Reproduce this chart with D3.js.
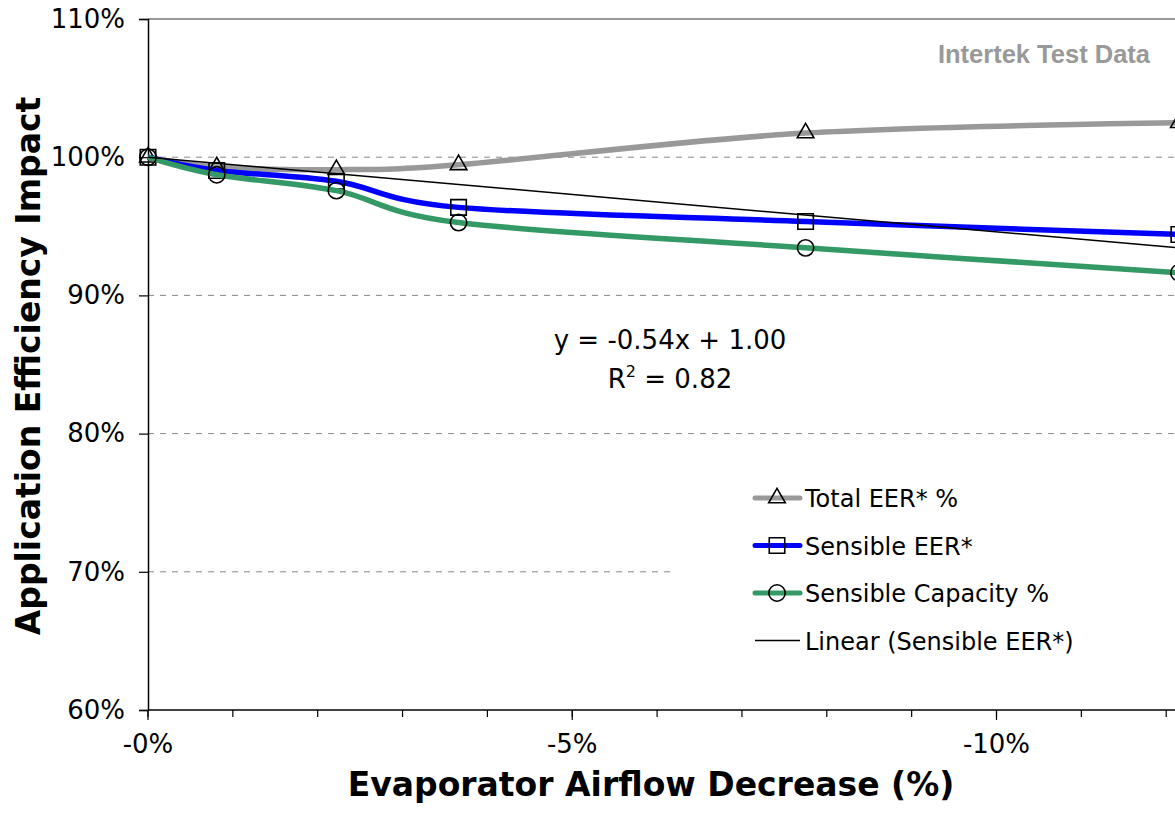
<!DOCTYPE html>
<html>
<head>
<meta charset="utf-8">
<script src="https://cdn.jsdelivr.net/npm/d3@7"></script>
<style>
  html, body { margin: 0; padding: 0; background: #fff; }
  svg { display: block; }
</style>
</head>
<body>
<div id="chart"></div>
<script>
// Airflow decrease (fraction) at each test point
const airflowDecrease = [0, 0.0081, 0.0222, 0.0366, 0.0775, 0.1215];
// Series values (fraction of baseline)
const totalEER = [1.000, 0.993, 0.991, 0.9945, 1.0175, 1.025];
const sensibleEER = [1.000, 0.9904, 0.9826, 0.9637, 0.9535, 0.9441];
const sensibleCapacity = [1.000, 0.9873, 0.9758, 0.9527, 0.9344, 0.9164];
// Linear trend fitted to Sensible EER*
const trendSlope = -0.54;
const trendIntercept = 1.00;
const trendR2 = 0.82;
// Axis ticks
const yTicks = [0.6, 0.7, 0.8, 0.9, 1.0, 1.1];
const xMajorTicks = [0, 0.05, 0.10];
const xMinorTicks = d3.range(0, 0.135, 0.01);
const seriesNames = ["Total EER* %", "Sensible EER*", "Sensible Capacity %", "Linear (Sensible EER*)"];

const W = 1175, H = 816;
const plot = { left: 148, top: 19, bottom: 710 };
const FONT = "'DejaVu Sans', Verdana, sans-serif";

const svg = d3.select("#chart").append("svg")
  .attr("width", W).attr("height", H)
  .style("font-family", FONT);

const x = d3.scaleLinear().domain([0, 0.13]).range([plot.left, plot.left + 13 * 84.85]);
const y = d3.scaleLinear().domain([0.6, 1.1]).range([plot.bottom, plot.top]);
const pct = d3.format(".0%");

// Dashed horizontal gridlines
svg.append("g").selectAll("line")
  .data(yTicks.filter(v => v > 0.6 && v < 1.1))
  .join("line")
  .attr("x1", plot.left).attr("x2", W)
  .attr("y1", d => y(d)).attr("y2", d => y(d))
  .attr("stroke", "#888").attr("stroke-width", 1)
  .attr("stroke-dasharray", "6,6");

// Top border of plot area
svg.append("line")
  .attr("x1", plot.left).attr("x2", W)
  .attr("y1", y(1.1)).attr("y2", y(1.1))
  .attr("stroke", "#777").attr("stroke-width", 1.5);

// Legend background sits over the gridlines
const legendBox = { x: 672, y: 458, w: 520, h: 222 };
svg.append("rect")
  .attr("x", legendBox.x).attr("y", legendBox.y)
  .attr("width", legendBox.w).attr("height", legendBox.h)
  .attr("fill", "#fff");

// Y axis
const yAxis = d3.axisLeft(y).tickValues(yTicks)
  .tickFormat(pct).tickSize(9).tickPadding(14);
const gy = svg.append("g").attr("transform", `translate(${plot.left},0)`).call(yAxis);
gy.select(".domain").attr("stroke", "#000").attr("stroke-width", 1.5);
gy.selectAll(".tick line").attr("stroke", "#000").attr("stroke-width", 1.2);
gy.selectAll(".tick text")
  .attr("font-size", 26).attr("fill", "#000")
  .attr("font-family", FONT);

// X axis: minor ticks each 1%, labelled major ticks each 5%
const gx = svg.append("g").attr("transform", `translate(0,${plot.bottom})`);
gx.append("line")
  .attr("x1", plot.left).attr("x2", W)
  .attr("stroke", "#000").attr("stroke-width", 1.5);
gx.selectAll("line.minor").data(xMinorTicks).join("line")
  .attr("class", "minor")
  .attr("x1", d => x(d)).attr("x2", d => x(d))
  .attr("y1", 0).attr("y2", 7)
  .attr("stroke", "#000").attr("stroke-width", 1.2);
gx.selectAll("line.major").data(xMajorTicks).join("line")
  .attr("class", "major")
  .attr("x1", d => x(d)).attr("x2", d => x(d))
  .attr("y1", 0).attr("y2", 10)
  .attr("stroke", "#000").attr("stroke-width", 1.2);
gx.selectAll("text").data(xMajorTicks).join("text")
  .attr("x", d => x(d)).attr("y", 43)
  .attr("text-anchor", "middle")
  .attr("font-size", 26).attr("fill", "#000")
  .text(d => "-" + pct(d));

// Axis titles
svg.append("text")
  .attr("x", 651).attr("y", 796)
  .attr("text-anchor", "middle")
  .attr("font-size", 33).attr("font-weight", "bold")
  .text("Evaporator Airflow Decrease (%)");
svg.append("text")
  .attr("transform", "translate(40,366) rotate(-90)")
  .attr("text-anchor", "middle")
  .attr("font-size", 33).attr("font-weight", "bold")
  .text("Application Efficiency Impact");

// Watermark
svg.append("text")
  .attr("x", 1150).attr("y", 63)
  .attr("text-anchor", "end")
  .attr("font-family", "'Liberation Sans', Arial, sans-serif")
  .attr("font-size", 25.5).attr("font-weight", "bold")
  .attr("fill", "#999")
  .text("Intertek Test Data");

// Series
const series = [
  { name: seriesNames[0], values: totalEER, color: "#999999", symbol: d3.symbolTriangle, size: 120 },
  { name: seriesNames[1], values: sensibleEER, color: "#0000ff", symbol: d3.symbolSquare, size: 240 },
  { name: seriesNames[2], values: sensibleCapacity, color: "#339966", symbol: d3.symbolCircle, size: 210 }
];

const line = d3.line()
  .x(d => x(d[0])).y(d => y(d[1]))
  .curve(d3.curveCatmullRom.alpha(0));

series.forEach(s => {
  const pts = airflowDecrease.map((v, i) => [v, s.values[i]]);
  svg.append("path")
    .datum(pts)
    .attr("d", line)
    .attr("fill", "none")
    .attr("stroke", s.color)
    .attr("stroke-width", 5.5)
    .attr("stroke-linejoin", "round");
  svg.append("g").selectAll("path")
    .data(pts)
    .join("path")
    .attr("transform", d => `translate(${x(d[0])},${y(d[1])})`)
    .attr("d", d3.symbol().type(s.symbol).size(s.size))
    .attr("fill", "none")
    .attr("stroke", "#000")
    .attr("stroke-width", 1.6);
});

// Linear trendline for Sensible EER*
const xExt = d3.extent(airflowDecrease);
svg.append("line")
  .attr("x1", x(xExt[0])).attr("y1", y(trendIntercept + trendSlope * xExt[0]))
  .attr("x2", x(xExt[1])).attr("y2", y(trendIntercept + trendSlope * xExt[1]))
  .attr("stroke", "#000").attr("stroke-width", 1.5);

// Trendline equation
const f2 = v => d3.format(".2f")(v).replace("\u2212", "-");
svg.append("text")
  .attr("x", 670).attr("y", 349)
  .attr("text-anchor", "middle").attr("font-size", 26)
  .text(`y = ${f2(trendSlope)}x + ${f2(trendIntercept)}`);
const r2 = svg.append("text")
  .attr("x", 670).attr("y", 388)
  .attr("text-anchor", "middle").attr("font-size", 26);
r2.append("tspan").text("R");
r2.append("tspan").attr("dy", -11).attr("font-size", 16).text("2");
r2.append("tspan").attr("dy", 11).text(` = ${f2(trendR2)}`);

// Legend
const legendRows = [
  { name: seriesNames[0], color: "#999999", symbol: d3.symbolTriangle, size: 120, width: 5 },
  { name: seriesNames[1], color: "#0000ff", symbol: d3.symbolSquare, size: 240, width: 5 },
  { name: seriesNames[2], color: "#339966", symbol: d3.symbolCircle, size: 210, width: 5 },
  { name: seriesNames[3], color: "#000", symbol: null, size: 0, width: 1.5 }
];
const lg = svg.append("g");
legendRows.forEach((r, i) => {
  const cy = 498 + i * 47.5;
  lg.append("line")
    .attr("x1", 755).attr("x2", 800).attr("y1", cy).attr("y2", cy)
    .attr("stroke", r.color).attr("stroke-width", r.width)
    .attr("stroke-linecap", r.symbol ? "round" : "butt");
  if (r.symbol) {
    lg.append("path")
      .attr("transform", `translate(777,${cy})`)
      .attr("d", d3.symbol().type(r.symbol).size(r.size))
      .attr("fill", "none").attr("stroke", "#000").attr("stroke-width", 1.6);
  }
  lg.append("text")
    .attr("x", 805).attr("y", cy + 9)
    .attr("font-size", 24)
    .text(r.name);
});
</script>
</body>
</html>
